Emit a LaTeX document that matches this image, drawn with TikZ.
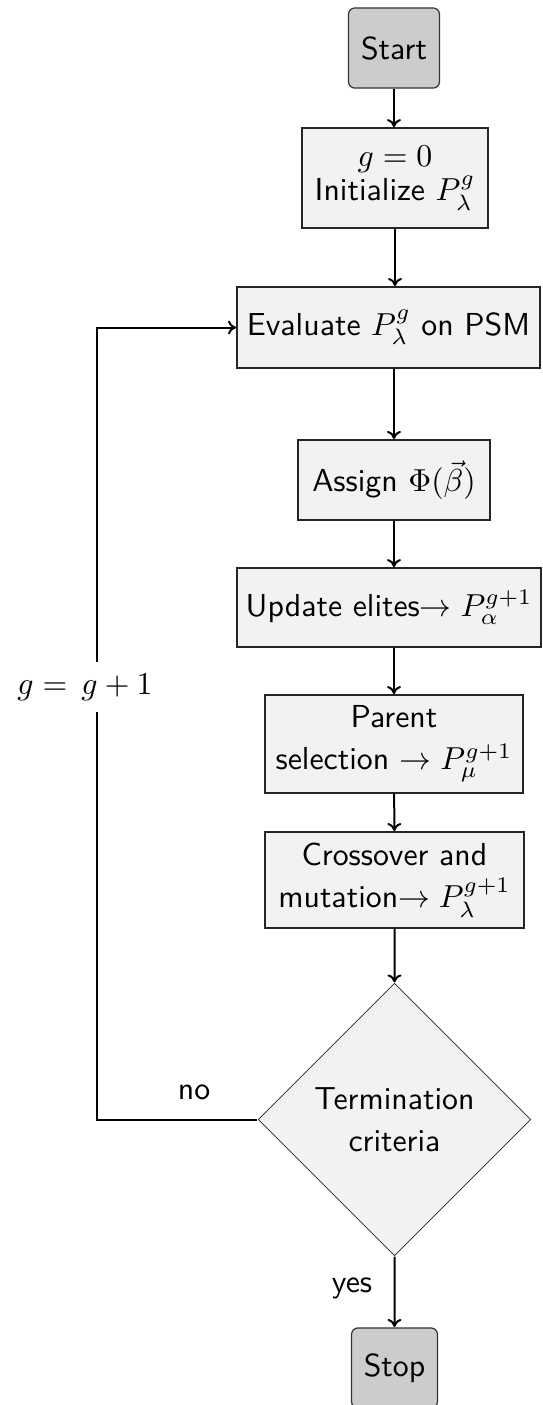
\documentclass[tikz,border=0pt]{standalone}
\usetikzlibrary{shapes.geometric,arrows.meta}
\begin{document}
\begin{tikzpicture}[x=0.5pt,y=-0.5pt,
  every node/.style={scale=1.59, font=\fontsize{10}{13.2}\selectfont\sffamily},
  term/.style={draw=black!80, fill=black!20, rounded corners=3.2pt, line width=0.6pt, inner sep=0pt, align=center},
  proc/.style={draw=black!85, fill=black!5, line width=0.6pt, inner sep=0pt, align=center},
  dec/.style={diamond, aspect=1, draw=black!85, fill=black!5, line width=0.4pt, inner sep=0pt, align=center, minimum size=85.8pt},
  conn/.style={-{To[length=4pt,width=7pt]}, line width=1pt}]
\useasboundingbox (0,0) rectangle (542,1405);
\node[term, minimum width=28.6pt, minimum height=25.2pt] (start) at (394,48) {Start};
\node[proc, minimum width=58.5pt, minimum height=31.4pt] (init) at (395,178) {$g=0$\\[-2.5pt]Initialize $P_\lambda^g$};
\node[proc, minimum width=95.3pt, minimum height=25.5pt] (eval) at (388.5,327.5) {Evaluate $P_\lambda^g$ on PSM};
\node[proc, minimum width=60.4pt, minimum height=25.2pt] (assign) at (394,480) {Assign $\Phi(\vec{\beta})$};
\node[proc, minimum width=95.6pt, minimum height=24.8pt] (update) at (389,607.5) {Update elites$\rightarrow P_\alpha^{g+1}$};
\node[proc, minimum width=81.1pt, minimum height=30.8pt] (parent) at (394,744) {Parent\\selection $\rightarrow P_\mu^{g+1}$};
\node[proc, minimum width=81.4pt, minimum height=30.2pt] (cross) at (394.5,880) {Crossover and\\mutation$\rightarrow P_\lambda^{g+1}$};
\node[dec] (term) at (394.5,1119.5) {Termination\\criteria};
\node[term, minimum width=27pt, minimum height=25.2pt] (stop) at (394.5,1368) {Stop};
\coordinate (lc) at (97,1119.5);
\node (no) at (194,1092) {no};
\node (yes) at (352,1288) {yes};

\draw[conn] (start.south) -- (start.south |- init.north);
\draw[conn] (init.south) -- (init.south |- eval.north);
\draw[conn] (assign.north |- eval.south) -- (assign.north);
\draw[conn] (assign.south) -- (assign.south |- update.north);
\draw[conn] (parent.north |- update.south) -- (parent.north);
\draw[conn] (parent) -- (cross);
\draw[conn] (cross) -- (term);
\draw[conn] (term) -- (stop);
\draw[conn] (term.west) -- (lc) |- (eval.west);
\node[fill=white, inner xsep=1pt, inner ysep=3.8pt] (gl) at (85,687) {$g = \,g + 1$};
\end{tikzpicture}
\end{document}
